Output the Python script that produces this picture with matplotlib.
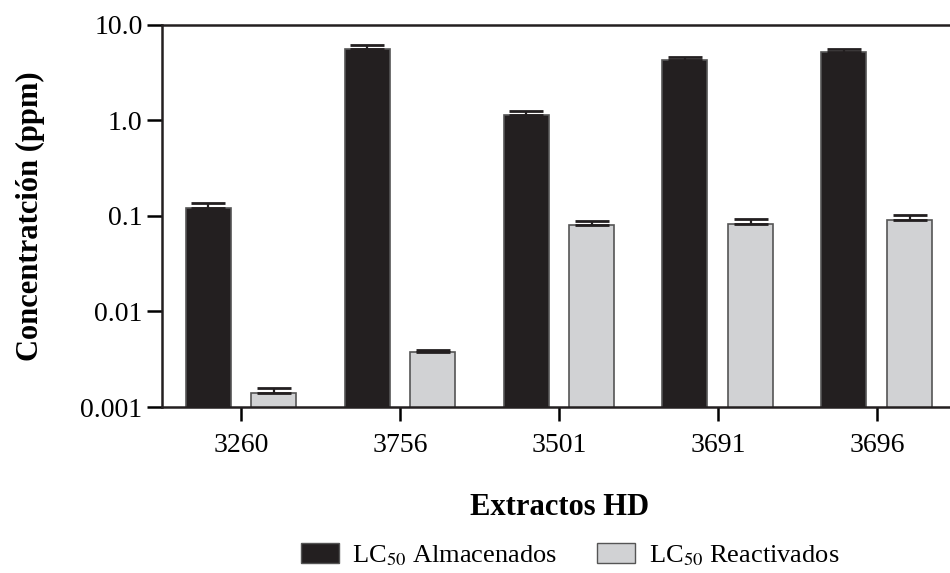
import numpy as np
import matplotlib
matplotlib.use('Agg')
import matplotlib.pyplot as plt
from matplotlib.patches import Patch

plt.rcParams['font.family'] = ['Liberation Serif', 'DejaVu Serif']
plt.rcParams['mathtext.fontset'] = 'stix'

extractos = ['3260', '3756', '3501', '3691', '3696']
almacenados = [0.121, 5.6, 1.14, 4.27, 5.21]
almacenados_err = [0.016, 0.55, 0.12, 0.35, 0.45]
reactivados = [0.0014, 0.00377, 0.080, 0.0824, 0.0908]
reactivados_err = [0.00018, 0.00018, 0.0085, 0.0106, 0.012]

fig = plt.figure(figsize=(9.5, 5.73), dpi=100)
ax = fig.add_axes([0.1705, 0.2897, 0.8295, 0.6667])

x = np.arange(len(extractos))
w = 0.283
off = 0.207
err_kw = dict(ecolor='#231f20', elinewidth=1.6, capsize=12, capthick=2.0)

ax.bar(x - off, almacenados, w, color='#231f20', edgecolor='#555555', linewidth=1.2,
       yerr=[np.zeros(5), almacenados_err], error_kw=err_kw)
ax.bar(x + off, reactivados, w, color='#d1d2d4', edgecolor='#555555', linewidth=1.2,
       yerr=[np.zeros(5), reactivados_err], error_kw=err_kw)

ax.set_yscale('log')
ax.set_ylim(0.001, 10)
ax.set_xlim(-0.497, 4.46)
ax.set_yticks([0.001, 0.01, 0.1, 1, 10])
ax.set_yticklabels(['0.001', '0.01', '0.1', '1.0', '10.0'])
ax.minorticks_off()
ax.set_xticks(x)
ax.set_xticklabels(extractos)

ax.spines['right'].set_visible(False)
for s in ['left', 'bottom', 'top']:
    ax.spines[s].set_linewidth(1.8)
    ax.spines[s].set_color('#231f20')
ax.tick_params(axis='y', length=11, width=1.8, labelsize=20, pad=3)
ax.tick_params(axis='x', length=10, width=1.8, labelsize=20, pad=9)

ax.set_ylabel('Concentratción (ppm)', fontsize=22, fontweight='bold')
ax.yaxis.set_label_coords(-0.149, 0.5)
ax.set_xlabel('Extractos HD', fontsize=22, fontweight='bold')
ax.xaxis.set_label_coords(0.505, -0.225)

handles = [Patch(facecolor='#231f20', edgecolor='#555555'),
           Patch(facecolor='#d1d2d4', edgecolor='#555555')]
fig.legend(handles, ['LC$_{50}$ Almacenados', 'LC$_{50}$ Reactivados'],
           loc='center', bbox_to_anchor=(0.60, 0.031), ncol=2, frameon=False,
           fontsize=19, handlelength=1.45, handleheight=0.8, columnspacing=1.5,
           handletextpad=0.5)

fig.savefig('out.png', dpi=100)
